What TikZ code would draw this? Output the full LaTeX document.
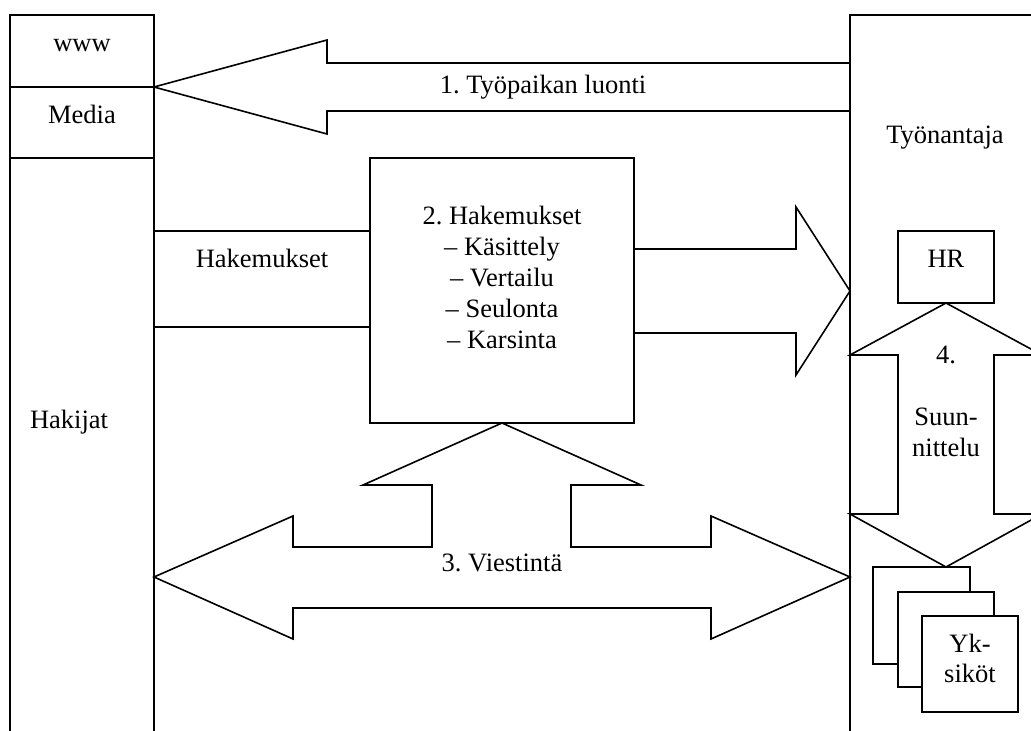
\documentclass[tikz,border=0pt]{standalone}
\usepackage{fontspec}
\setmainfont{Liberation Serif}
\frenchspacing
\begin{document}
\begin{tikzpicture}[x=1pt,y=-1pt,
  outline/.style={draw=black, line width=1.6pt, line join=miter},
  lbl/.style={anchor=base, inner sep=0pt, font=\fontsize{26.5}{31}\selectfont}]
\useasboundingbox (0,0) rectangle (1031,731);
\clip (0,0) rectangle (1031,731);
\fill[white] (0,0) rectangle (1031,731);

% left column: www / Media / Hakijat
\draw[outline] (10,731) -- (10,15) -- (154,15) -- (154,731);
\draw[outline] (10,87) -- (154,87);
\draw[outline] (10,158) -- (154,158);

% right column: employer
\draw[outline] (850,731) -- (850,15) -- (1040,15);

% 1. job creation arrow (employer -> media)
\draw[outline] (850,63) -- (327,63) -- (327,40) -- (154,87) -- (327,134) -- (327,111) -- (850,111);

% applications band and processing box
\draw[outline] (154,231) -- (370,231);
\draw[outline] (154,327) -- (370,327);
\draw[outline] (370,158) rectangle (634,423);

% arrow from processing box to employer
\draw[outline] (634,249) -- (796,249) -- (796,207) -- (850,291) -- (796,375) -- (796,333) -- (634,333);

% HR box
\draw[outline] (898,231) rectangle (994,303);

% 4. planning double arrow
\draw[outline] (946,303) -- (1042,355) -- (994,355) -- (994,514) -- (1042,514)
  -- (946,567) -- (850,514) -- (898,514) -- (898,355) -- (850,355) -- cycle;

% units (stacked boxes)
\draw[outline, fill=white] (873,567) rectangle (970,664);
\draw[outline, fill=white] (898,592) rectangle (994,687);
\draw[outline, fill=white] (922,616) rectangle (1018,712);

% 3. communication arrow
\draw[outline] (154,577) -- (293,516) -- (293,547) -- (432,547) -- (432,485) -- (363,485)
  -- (502,423) -- (641,485) -- (571,485) -- (571,547) -- (711,547) -- (711,516)
  -- (850,577) -- (711,639) -- (711,608) -- (293,608) -- (293,639) -- cycle;

% labels
\node[lbl] (www) at (82,51) {www};
\node[lbl] (media) at (82,123) {Media};
\node[lbl] (hakijat) at (69,428) {Hakijat};
\node[lbl] (luonti) at (543,93) {1. Työpaikan luonti};
\node[lbl] (hakband) at (262,267) {Hakemukset};
\node[lbl] (hak2) at (502,224) {2. Hakemukset};
\node[lbl] (kas) at (502,255) {– Käsittely};
\node[lbl] (ver) at (502,286) {– Vertailu};
\node[lbl] (seu) at (502,317) {– Seulonta};
\node[lbl] (kar) at (502,348) {– Karsinta};
\node[lbl] (tyon) at (945,143) {Työnantaja};
\node[lbl] (hr) at (946,267) {HR};
\node[lbl] (four) at (946,363) {4.};
\node[lbl] (suun) at (946,425) {Suun-};
\node[lbl] (nitt) at (946,456) {nittelu};
\node[lbl] (yk) at (970,652) {Yk-};
\node[lbl] (sik) at (970,682) {siköt};
\node[lbl] (viest) at (502,571) {3. Viestintä};
\end{tikzpicture}
\end{document}
